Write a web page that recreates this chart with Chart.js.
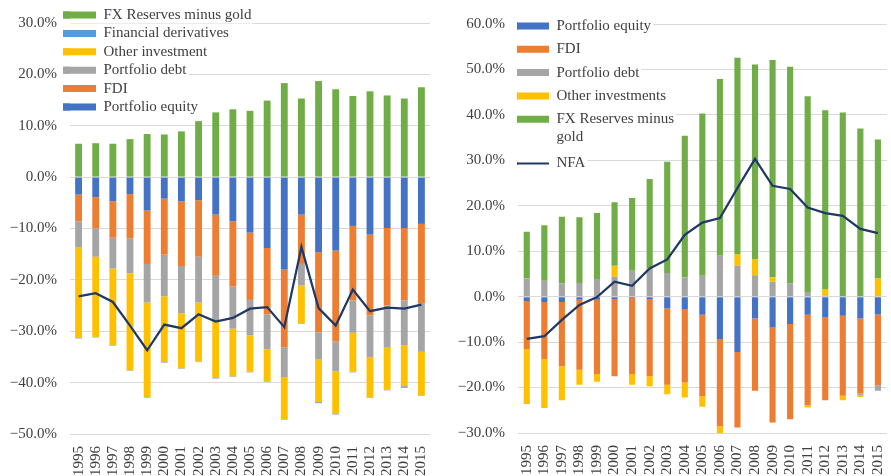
<!DOCTYPE html>
<html>
<head>
<meta charset="utf-8">
<script src="https://cdn.jsdelivr.net/npm/chart.js@4.4.1/dist/chart.umd.min.js"></script>
<style>
  body { margin: 0; background: #fff; width: 891px; height: 476px; overflow: hidden; position: relative; }
  #left { position: absolute; left: 0; top: 0; }
  #right { position: absolute; left: 445px; top: 0; }
</style>
</head>
<body>
<canvas id="left" width="445" height="476"></canvas>
<canvas id="right" width="455" height="476"></canvas>
<script>
// years on both panels
const years = ["1995","1996","1997","1998","1999","2000","2001","2002","2003","2004","2005",
  "2006","2007","2008","2009","2010","2011","2012","2013","2014","2015"];

// left panel (% of GDP)
const leftEquity = [-3.4, -3.9, -4.7, -3.3, -6.5, -4.2, -4.7, -4.5, -7.3, -8.6, -10.8, -13.8, -18.0, -7.3, -14.6, -14.3, -9.5, -11.2, -9.9, -9.9, -9.1];
const leftFdi = [-5.2, -6.1, -7.1, -8.6, -10.4, -10.9, -12.6, -11.0, -11.9, -12.7, -13.1, -12.9, -15.1, -9.6, -15.6, -17.7, -14.5, -15.7, -15.1, -14.1, -15.4];
const leftDebt = [-5.1, -5.5, -6.0, -6.8, -7.5, -8.1, -9.2, -8.9, -9.0, -8.2, -6.9, -6.8, -5.8, -4.2, -5.3, -5.8, -6.3, -8.1, -8.2, -8.7, -9.5];
const leftOther = [-17.6, -15.6, -14.9, -18.9, -18.4, -12.8, -10.7, -11.5, -10.9, -9.3, -7.1, -6.2, -8.2, -7.4, -8.3, -8.2, -7.6, -7.9, -8.2, -8.0, -8.5];
const leftDeriv = [-0.1, -0.1, -0.1, -0.1, -0.1, -0.1, -0.1, -0.1, -0.1, -0.1, -0.1, -0.1, -0.1, -0.1, -0.2, -0.2, -0.1, -0.1, -0.1, -0.3, -0.1];
const leftReserves = [6.5, 6.6, 6.5, 7.4, 8.4, 8.3, 8.9, 10.9, 12.6, 13.2, 12.9, 14.9, 18.3, 15.3, 18.7, 17.1, 15.8, 16.7, 15.9, 15.3, 17.5];
const leftNfa = [-23.2, -22.6, -24.3, -28.9, -33.7, -28.7, -29.4, -26.7, -28.1, -27.4, -25.6, -25.3, -29.2, -13.6, -25.5, -28.9, -21.9, -26.1, -25.4, -25.6, -24.8];

// right panel
const rightEquity = [-0.95, -1.2, -1.2, -0.7, -0.7, -0.5, -0.3, -0.5, -2.6, -2.7, -4.0, -9.3, -12.2, -4.8, -6.7, -6.0, -4.0, -4.5, -4.2, -4.8, -3.9];
const rightFdi = [-10.55, -12.5, -14.1, -15.4, -16.3, -17.0, -16.7, -17.0, -16.8, -16.2, -17.9, -19.2, -16.6, -15.9, -21.0, -21.0, -19.9, -18.3, -17.6, -16.5, -15.6];
const rightDebt = [4.0, 3.5, 2.9, 3.0, 3.9, 4.4, 5.7, 6.2, 5.2, 4.2, 4.6, 9.0, 6.8, 4.7, 3.3, 2.9, 1.0, 0.2, 0.1, -0.4, -1.2];
const rightOther = [-12.1, -10.8, -7.5, -3.3, -1.7, 2.4, -2.4, -2.2, -2.1, -3.3, -2.3, -2.1, 2.6, 3.6, 1.0, 0, -0.5, 1.5, -1.0, -0.4, 4.0];
const rightReserves = [10.3, 12.2, 14.7, 14.5, 14.5, 14.0, 16.0, 19.7, 24.5, 31.2, 35.7, 38.9, 43.2, 42.8, 47.8, 47.7, 43.1, 39.3, 40.4, 37.0, 30.6];
const rightNfa = [-9.3, -8.7, -5.1, -1.8, -0.1, 3.3, 2.4, 6.2, 8.2, 13.6, 16.3, 17.3, 23.9, 30.3, 24.4, 23.7, 19.6, 18.4, 17.8, 14.9, 14.0];

const BLUE = "#4472c4", ORANGE = "#ed7d31", GREY = "#a5a5a5", YELLOW = "#ffc000",
  LBLUE = "#5b9bd5", GREEN = "#70ad47", NAVY = "#203864";
const FONT = "'Liberation Serif', 'Times New Roman', serif";
const TEXT = "#404040";

Chart.defaults.font.family = FONT;
Chart.defaults.font.size = 15;
Chart.defaults.color = TEXT;

//legend sits inside the plot, gridlines hidden behind each entry
const legendSpot = {
  id: "legendSpot",
  beforeDraw(chart, args, opts) {
    const lg = chart.legend;
    lg.left = opts.left;
    lg.top = opts.top;
    lg.right = chart.width;
    lg.bottom = chart.height;
  },
  beforeDatasetsDraw(chart, args, opts) {
    const lg = chart.legend;
    const ctx = chart.ctx;
    const pad = opts.pad, size = 15, lineH = 18;
    ctx.save();
    ctx.font = size + "px " + FONT;
    ctx.fillStyle = "#fff";
    let y = lg.top + pad;
    lg.legendItems.forEach((item) => {
      const lines = Array.isArray(item.text) ? item.text : [item.text];
      const h = Array.isArray(item.text) ? lines.length * lineH : size;
      const w = Math.max(...lines.map((t) => ctx.measureText(t).width));
      const x1 = lg.left + pad + opts.boxW + size / 2 + w + 2;
      const x0 = chart.chartArea.left;
      ctx.fillRect(x0, y - 1, x1 - x0, h + 2);
      y += h + pad;
    });
    ctx.restore();
    lg.draw();
  },
};

function pct(v) {
  const s = Math.abs(v).toFixed(1) + "%";
  return v < 0 ? "\u2212" + s : s;
}

function bar(label, data, color, pct) {
  return {
    type: "bar",
    label: label,
    data: data,
    backgroundColor: color,
    borderWidth: 0,
    stack: "s",
    pointStyle: "rect",
    barPercentage: pct,
    categoryPercentage: 1,
    order: 1,
  };
}

function nfaLine(data) {
  return {
    type: "line",
    label: "NFA",
    data: data,
    borderColor: NAVY,
    backgroundColor: NAVY,
    borderWidth: 2.25,
    pointRadius: 0,
    pointBorderWidth: 2,
    pointBorderColor: NAVY,
    pointStyle: "line",
    tension: 0,
    stack: "nfa",
    order: 0,
  };
}

function makeOptions(yMin, yMax, yWidth, xHeight, pad, legend, spot) {
  return {
    responsive: false,
    animation: false,
    layout: { padding: pad },
    plugins: {
      tooltip: { enabled: false },
      legend: legend,
      legendSpot: spot,
    },
    scales: {
      x: {
        stacked: true,
        grid: { display: false },
        border: { display: false },
        ticks: { minRotation: 90, maxRotation: 90, autoSkip: false, padding: 4, color: TEXT },
        afterFit: (s) => { s.height = xHeight; },
      },
      y: {
        stacked: true,
        min: yMin,
        max: yMax,
        grid: { color: "#d9d9d9", lineWidth: 1, drawTicks: false },
        border: { display: false },
        ticks: { stepSize: 10, padding: 13, color: TEXT, callback: (v) => pct(v) },
        afterFit: (s) => { s.width = yWidth; },
      },
    },
  };
}

// left chart
new Chart(document.getElementById("left"), {
  type: "bar",
  data: {
    labels: years,
    datasets: [
      nfaLine(leftNfa),
      bar("Portfolio equity", leftEquity, BLUE, 0.4),
      bar("FDI", leftFdi, ORANGE, 0.4),
      bar("Portfolio debt", leftDebt, GREY, 0.4),
      bar("Other investment", leftOther, YELLOW, 0.4),
      bar("Financial derivatives", leftDeriv, LBLUE, 0.4),
      bar("FX Reserves minus gold", leftReserves, GREEN, 0.4),
    ],
  },
  options: makeOptions(-50, 30, 70, 42, { top: 23, right: 15, left: 0, bottom: 0 },
    {
      position: "chartArea",
      align: "start",
      fullSize: false,
      reverse: true,
      labels: {
        usePointStyle: true,
        pointStyleWidth: 33,
        boxHeight: 7,
        padding: 3.4,
        color: TEXT,
        font: { size: 15, family: FONT },
        filter: (item) => item.text !== "NFA",
        sort: (a, b) => a.datasetIndex - b.datasetIndex,
      },
    },
    { left: 59.6, top: 4.1, pad: 3.4, boxW: 33 }),
  plugins: [legendSpot],
});

// right chart
new Chart(document.getElementById("right"), {
  type: "bar",
  data: {
    labels: years,
    datasets: [
      bar("Portfolio equity", rightEquity, BLUE, 0.35),
      bar("FDI", rightFdi, ORANGE, 0.35),
      bar("Portfolio debt", rightDebt, GREY, 0.35),
      bar("Other investments", rightOther, YELLOW, 0.35),
      bar(["FX Reserves minus", "gold"], rightReserves, GREEN, 0.35),
      nfaLine(rightNfa),
    ],
  },
  options: makeOptions(-30, 60, 73, 43, { top: 24, right: 4, left: 0, bottom: 0 },
    {
      position: "chartArea",
      align: "start",
      fullSize: false,
      labels: {
        usePointStyle: true,
        pointStyleWidth: 32,
        boxHeight: 7,
        padding: 8.3,
        color: TEXT,
        font: { size: 15, family: FONT },
        sort: (a, b) => a.datasetIndex - b.datasetIndex,
      },
    },
    { left: 63.7, top: 10.2, pad: 8.3, boxW: 32 }),
  plugins: [legendSpot],
});
</script>
</body>
</html>
